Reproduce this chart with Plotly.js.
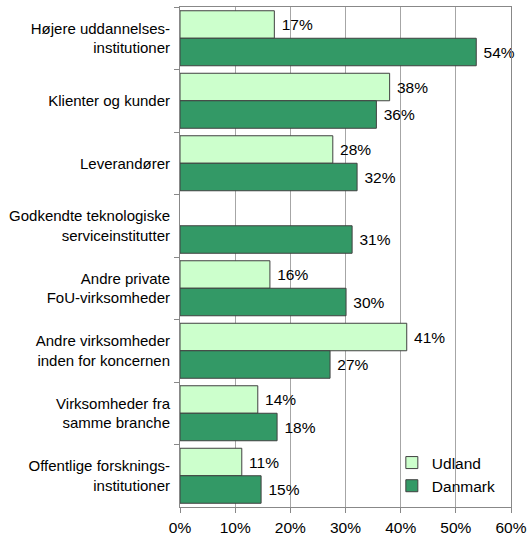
<!DOCTYPE html>
<html>
<head>
<meta charset="utf-8">
<script src="https://cdn.plot.ly/plotly-3.0.1.min.js"></script>
<style>html,body{margin:0;padding:0;background:#fff;}#chart{width:528px;height:537px;}</style>
</head>
<body>
<div id="chart"></div>
<script>
const categories = [
  "Højere uddannelses-<br>institutioner",
  "Klienter og kunder",
  "Leverandører",
  "Godkendte teknologiske<br>serviceinstitutter",
  "Andre private<br>FoU-virksomheder",
  "Andre virksomheder<br>inden for koncernen",
  "Virksomheder fra<br>samme branche",
  "Offentlige forsknings-<br>institutioner"
];
const udland = [17.1, 38.0, 27.7, null, 16.3, 41.1, 14.1, 11.2];
const danmark = [53.7, 35.6, 32.1, 31.2, 30.1, 27.2, 17.6, 14.7];
const xTickVals = [0, 10, 20, 30, 40, 50, 60];
const xTickText = ["0%", "10%", "20%", "30%", "40%", "50%", "60%"];

const FONT = 'Liberation Sans, Arial, sans-serif';
const common = {
  type: 'bar', orientation: 'h', y: categories,
  texttemplate: ' %{x:.0f}%', textposition: 'outside', cliponaxis: false,
  textfont: {family: FONT, size: 15.5, color: '#000'},
  hoverinfo: 'none'
};
const data = [
  Object.assign({}, common, {name: 'Udland', x: udland,
    marker: {color: '#CCFFCC', line: {color: '#404040', width: 1}}}),
  Object.assign({}, common, {name: 'Danmark', x: danmark,
    marker: {color: '#339966', line: {color: '#404040', width: 1}}})
];
const layout = {
  width: 528, height: 537,
  margin: {l: 180, r: 17, t: 7, b: 30},
  paper_bgcolor: '#fff', plot_bgcolor: '#fff',
  font: {family: FONT, size: 15.5, color: '#000'},
  barmode: 'group', bargap: 0.12, bargroupgap: 0,
  showlegend: true,
  legend: {x: 0.64, y: 0.008, xanchor: 'left', yanchor: 'bottom', bgcolor: 'rgba(0,0,0,0)',
    font: {size: 15.5}, itemwidth: 30, tracegroupgap: 0},
  shapes: [{type: 'rect', xref: 'paper', yref: 'paper', x0: 0.71, x1: 0.9, y0: 0.014, y1: 0.118,
    fillcolor: '#fff', line: {width: 0}, layer: 'between'}],
  xaxis: {range: [0, 60], tickvals: xTickVals, ticktext: xTickText,
    showgrid: true, gridcolor: '#A6A6A6', gridwidth: 1,
    showline: true, linecolor: '#888', mirror: true,
    ticks: 'outside', ticklen: 5, tickcolor: '#888', zeroline: false, fixedrange: true,
    ticklabelstandoff: 1},
  yaxis: {type: 'category', autorange: 'reversed', showgrid: false,
    showline: true, linecolor: '#888', mirror: true,
    ticks: 'outside', tickson: 'boundaries', ticklen: 5, tickcolor: '#888',
    ticklabelstandoff: 6, fixedrange: true, tickfont: {size: 15}}
};
Plotly.newPlot('chart', data, layout, {displayModeBar: false, staticPlot: true});
</script>
</body>
</html>
